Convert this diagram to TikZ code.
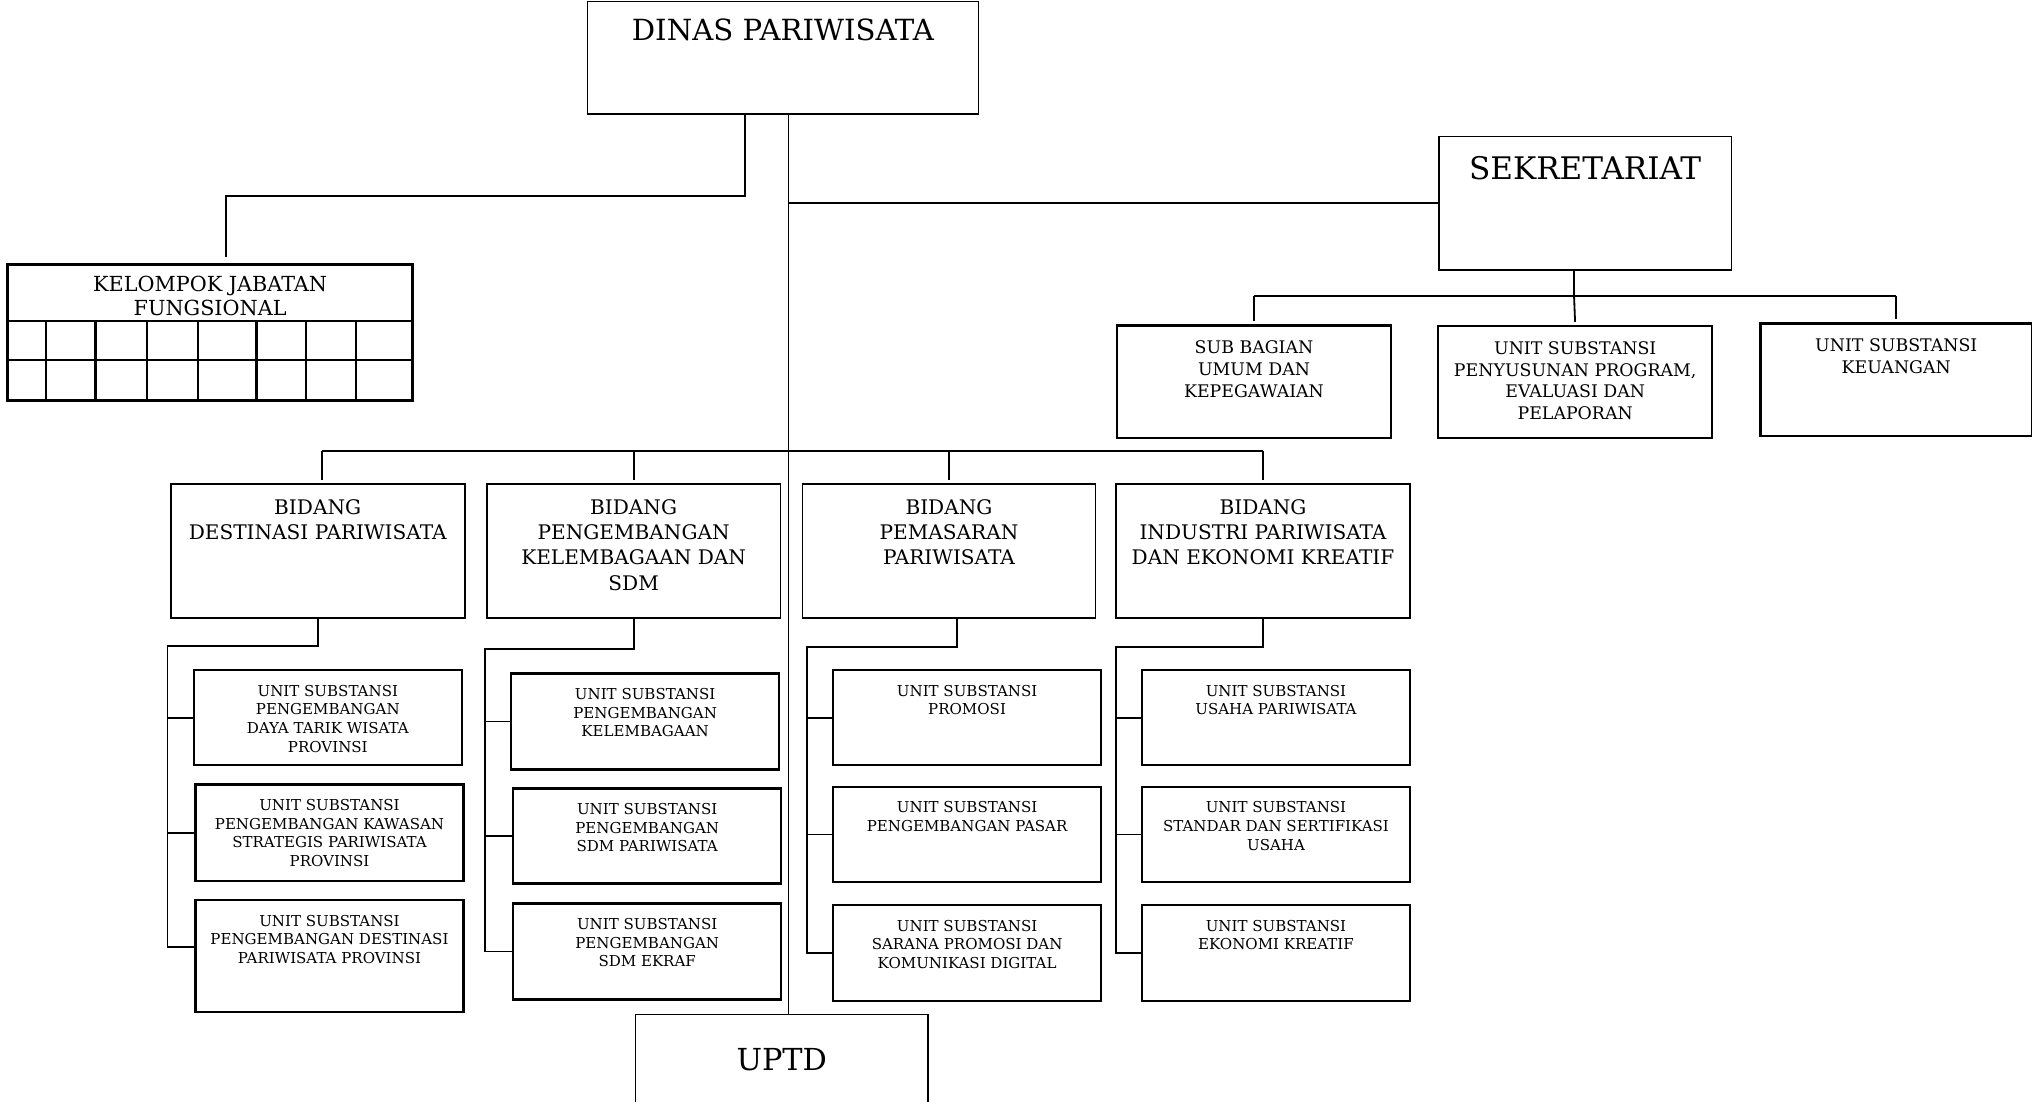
\documentclass[tikz,border=0pt]{standalone}
\usepackage{fontspec}
\setmainfont{DejaVu Serif}
% format macros: (font size, first baseline,) width, height, text
\newcommand\bigfmt[5]{\parbox[c][#4][t]{#3}{\fontsize{#1}{26}\selectfont\centering\rule{0pt}{#2}#5\par}}
\newcommand\kelfmt[3]{\parbox[c][#2][t]{#1}{\fontsize{16}{18.7}\selectfont\centering\rule{0pt}{20.6pt}#3\par}}
\newcommand\subfmt[3]{\parbox[c][#2][t]{#1}{\fontsize{13.4}{16.7}\selectfont\centering\rule{0pt}{21.8pt}#3\par}}
\newcommand\bidfmt[3]{\parbox[c][#2][t]{#1}{\fontsize{15.5}{19.6}\selectfont\centering\rule{0pt}{23pt}#3\par}}
\newcommand\unitfmt[3]{\parbox[c][#2][t]{#1}{\fontsize{11.6}{14.4}\selectfont\centering\rule{0pt}{20pt}#3\par}}
% place a box node: style, name, x1, y1, x2, y2, format, text
\newcommand\placebox[8]{%
  \pgfmathsetmacro\bw{#5-#3}\pgfmathsetmacro\bh{#6-#4}%
  \node[#1] (#2) at (#3,#4) {#7{\bw pt}{\bh pt}{#8}};}
\begin{document}
\begin{tikzpicture}[x=1pt,y=-1pt,
  conn/.style={line width=1.4pt},
  gap/.style={shorten >=2.5pt},
  bigbox/.style={draw, line width=1pt, inner sep=0pt, anchor=north west},
  bidbox/.style={draw, line width=1.3pt, inner sep=0pt, anchor=north west},
  subbox/.style={draw, line width=1.8pt, inner sep=0pt, anchor=north west},
  unitbox/.style={draw, line width=1.8pt, inner sep=0pt, anchor=north west},
  kelbox/.style={draw, line width=2pt, inner sep=0pt, anchor=north west},
  kline/.style={line width=1.8pt},
]
\useasboundingbox (0,0) rectangle (1568,850);

% top level
\placebox{bigbox}{dinas}{452.7}{0.5}{754.5}{87.5}{\bigfmt{22.5}{30.4pt}}{DINAS PARIWISATA}
\placebox{bidbox}{sek}{1109.5}{104.7}{1335.5}{207.8}{\bigfmt{24}{32.9pt}}{SEKRETARIAT}
\placebox{bigbox}{uptd}{490}{782.5}{715.5}{875}{\bigfmt{23.4}{43.2pt}}{UPTD}

% kelompok jabatan fungsional
\placebox{kelbox}{kel}{4.9}{203.2}{317.4}{307.9}{\kelfmt}{KELOMPOK JABATAN\\FUNGSIONAL}
\foreach \y in {247.7,277.6} \draw[kline] (4.9,\y) -- (317.4,\y);
\foreach \x in {35.4,73.8,113.2,152.6,197.8,236.2,274.6} \draw[kline] (\x,247.7) -- (\x,307.9);

% sekretariat units
\placebox{subbox}{sb1}{861.1}{250.3}{1072.4}{337}{\subfmt}{SUB BAGIAN\\UMUM DAN\\KEPEGAWAIAN}
\placebox{subbox}{sb2}{1108.9}{250.8}{1320.3}{337}{\subfmt}{UNIT SUBSTANSI\\PENYUSUNAN PROGRAM,\\EVALUASI DAN\\PELAPORAN}
\placebox{subbox}{sb3}{1357.5}{248.7}{1567.2}{335.7}{\subfmt}{UNIT SUBSTANSI\\KEUANGAN}

% bidang
\placebox{bidbox}{bd}{131.1}{373}{357.9}{476.4}{\bidfmt}{BIDANG\\DESTINASI PARIWISATA}
\placebox{bidbox}{bp}{374.9}{373}{601.7}{476.4}{\bidfmt}{BIDANG\\PENGEMBANGAN\\KELEMBAGAAN DAN\\SDM}
\placebox{bidbox}{bm}{618.6}{373}{844.7}{476.4}{\bidfmt}{BIDANG\\PEMASARAN\\PARIWISATA}
\placebox{bidbox}{bi}{860.7}{373}{1087.2}{476.4}{\bidfmt}{BIDANG\\INDUSTRI PARIWISATA\\DAN EKONOMI KREATIF}

% units
\placebox{unitbox}{d1}{148.7}{516.3}{355.4}{589.5}{\unitfmt}{UNIT SUBSTANSI\\PENGEMBANGAN\\DAYA TARIK WISATA\\PROVINSI}
\placebox{unitbox}{d2}{150}{604.5}{356.7}{679}{\unitfmt}{UNIT SUBSTANSI\\PENGEMBANGAN KAWASAN\\STRATEGIS PARIWISATA\\PROVINSI}
\placebox{unitbox}{d3}{150}{693.7}{356.7}{780.2}{\unitfmt}{UNIT SUBSTANSI\\PENGEMBANGAN DESTINASI\\PARIWISATA PROVINSI}
\placebox{unitbox}{p1}{393.4}{518.8}{600.4}{592.9}{\unitfmt}{UNIT SUBSTANSI\\PENGEMBANGAN\\KELEMBAGAAN}
\placebox{unitbox}{p2}{395}{607.6}{602}{680.9}{\unitfmt}{UNIT SUBSTANSI\\PENGEMBANGAN\\SDM PARIWISATA}
\placebox{unitbox}{p3}{395}{696.3}{602}{770.4}{\unitfmt}{UNIT SUBSTANSI\\PENGEMBANGAN\\SDM EKRAF}
\placebox{unitbox}{m1}{641.9}{516.3}{848.8}{589.5}{\unitfmt}{UNIT SUBSTANSI\\PROMOSI}
\placebox{unitbox}{m2}{641.9}{606.3}{848.8}{679.8}{\unitfmt}{UNIT SUBSTANSI\\PENGEMBANGAN PASAR}
\placebox{unitbox}{m3}{641.9}{697.6}{848.8}{771.7}{\unitfmt}{UNIT SUBSTANSI\\SARANA PROMOSI DAN\\KOMUNIKASI DIGITAL}
\placebox{unitbox}{i1}{880.2}{516.3}{1087.2}{589.5}{\unitfmt}{UNIT SUBSTANSI\\USAHA PARIWISATA}
\placebox{unitbox}{i2}{880.2}{606.3}{1087.2}{679.8}{\unitfmt}{UNIT SUBSTANSI\\STANDAR DAN SERTIFIKASI\\USAHA}
\placebox{unitbox}{i3}{880.2}{697.6}{1087.2}{771.7}{\unitfmt}{UNIT SUBSTANSI\\EKONOMI KREATIF}

% junction coordinates
\coordinate (mx) at (608.4,0);
\coordinate (kj) at (574.9,151);
\coordinate (kend) at (174.7,198.6);
\coordinate (sj) at (1214.6,228.2);
\coordinate (bb) at (0,348);
\coordinate (bdx) at (248.5,0);
\coordinate (dsp) at (129.2,498.2);
\coordinate (d3b) at (129.2,731);
\coordinate (psp) at (374.3,500.8);
\coordinate (mdx) at (738.5,0);
\coordinate (msp) at (622.7,499.5);
\coordinate (isp) at (861,499.5);

% connectors: top level
\draw[conn] (dinas.south -| mx) -- (uptd.north -| mx);
\draw[conn] (dinas.south -| kj) -- (kj) -| (kend);
\draw[conn] (mx |- sek.west) -- (sek.west);

% sekretariat
\draw[conn] (sek.south -| sj) -- (sj);
\draw[conn] (sb1.north |- sj) -- (sb3.north |- sj);
\draw[conn,gap] (sb1.north |- sj) -- (sb1.north);
\draw[conn,gap] (sj) -- (sb2.north);
\draw[conn,gap] (sb3.north |- sj) -- (sb3.north);

% bidang bar
\draw[conn] (bdx |- bb) -- (bi.north |- bb);
\draw[conn,gap] (bdx |- bb) -- (bdx |- bd.north);
\draw[conn,gap] (bp.north |- bb) -- (bp.north);
\draw[conn,gap] (bm.north |- bb) -- (bm.north);
\draw[conn,gap] (bi.north |- bb) -- (bi.north);

% destinasi
\draw[conn] (bd.south) |- (dsp) -- (d3b) -- (d3b -| d3.west);
\draw[conn] (dsp |- d1.west) -- (d1.west);
\draw[conn] (dsp |- d2.west) -- (d2.west);
% pengembangan
\draw[conn] (bp.south) |- (psp) -- (psp |- p3.west) -- (p3.west);
\draw[conn] (psp |- p1.west) -- (p1.west);
\draw[conn] (psp |- p2.west) -- (p2.west);
% pemasaran
\draw[conn] (bm.south -| mdx) |- (msp) -- (msp |- m3.west) -- (m3.west);
\draw[conn] (msp |- m1.west) -- (m1.west);
\draw[conn] (msp |- m2.west) -- (m2.west);
% industri
\draw[conn] (bi.south) |- (isp) -- (isp |- i3.west) -- (i3.west);
\draw[conn] (isp |- i1.west) -- (i1.west);
\draw[conn] (isp |- i2.west) -- (i2.west);
\end{tikzpicture}
\end{document}
